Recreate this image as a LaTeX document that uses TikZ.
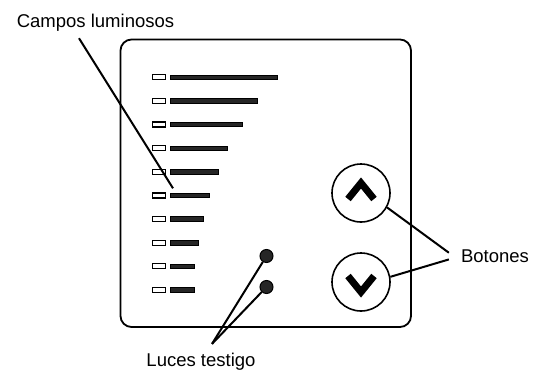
\documentclass[tikz,border=0pt]{standalone}
\usepackage{fontspec}
\setmainfont{Liberation Sans}
\usepackage{tikz}
\tikzset{%
    lamp/.style={%
        draw, fill=white, line width=1.2pt, minimum width=13pt, minimum height=5pt, inner sep=0pt
    },
    bar/.style={%
        draw, fill=black!85, line width=0.8pt, minimum height=4.5pt, inner sep=0pt, anchor=west
    },
    dot/.style={%
        draw, shape=circle, fill=black!85, line width=1pt, minimum size=13pt, inner sep=0pt
    },
    knob/.style={%
        draw, shape=circle, line width=1.6pt, minimum size=58pt, inner sep=0pt
    },
    tag/.style={%
        font=\fontsize{18.5}{22}\selectfont, inner sep=0pt, anchor=base
    },
    lead/.style={%
        line width=2pt
    }
}

\begin{document}
\begin{tikzpicture}[x=1pt, y=-1pt]
    \useasboundingbox (0,0) rectangle (536,370);
    \draw[line width=1.8pt, rounded corners=11pt] (120.5,39.5) rectangle (411,327);

    \foreach \i/\e in {1/277,2/257,3/242,4/227,5/218,6/209,7/203,8/198,9/194,10/194} {
        \node[lamp] (lamp\i) at (159,{77.3+23.63*(\i-1)}) {};
        \node[bar, minimum width={(\e-170)*1pt}] (bar\i) at (170,{77.3+23.63*(\i-1)}) {};
    }

    \node[dot] (light1) at (266.5,256) {};
    \node[dot] (light2) at (266.5,287) {};

    \node[knob] (up) at (361,193) {};
    \node[knob] (down) at (361,282) {};
    \draw[line width=7pt, shift={(up)}] (-13,6) -- (0,-10) -- (13,6);
    \draw[line width=7pt, shift={(down)}] (-13,-6) -- (0,10) -- (13,-6);

    \node[tag] (campos) at (95.5,27.7) {Campos luminosos};
    \node[tag] (botones) at (495,262.7) {Botones};
    \node[tag] (luces) at (201,366) {Luces testigo};

    \draw[lead]
        ([shift={(-16.5pt,-6.5pt)}]campos.south) -- ([shift={(3pt,4.5pt)}]bar6.north west)
        ([shift={(-12pt,3.7pt)}]botones.west) -- (up.-29)
        ([shift={(-12pt,-3pt)}]botones.west) -- (down.10)
        ;
    \draw[lead] ([shift={(11pt,8.5pt)}]luces.north) -- (light1);
    \draw[lead] ([shift={(11pt,8.5pt)}]luces.north) -- (light2);
\end{tikzpicture}
\end{document}
